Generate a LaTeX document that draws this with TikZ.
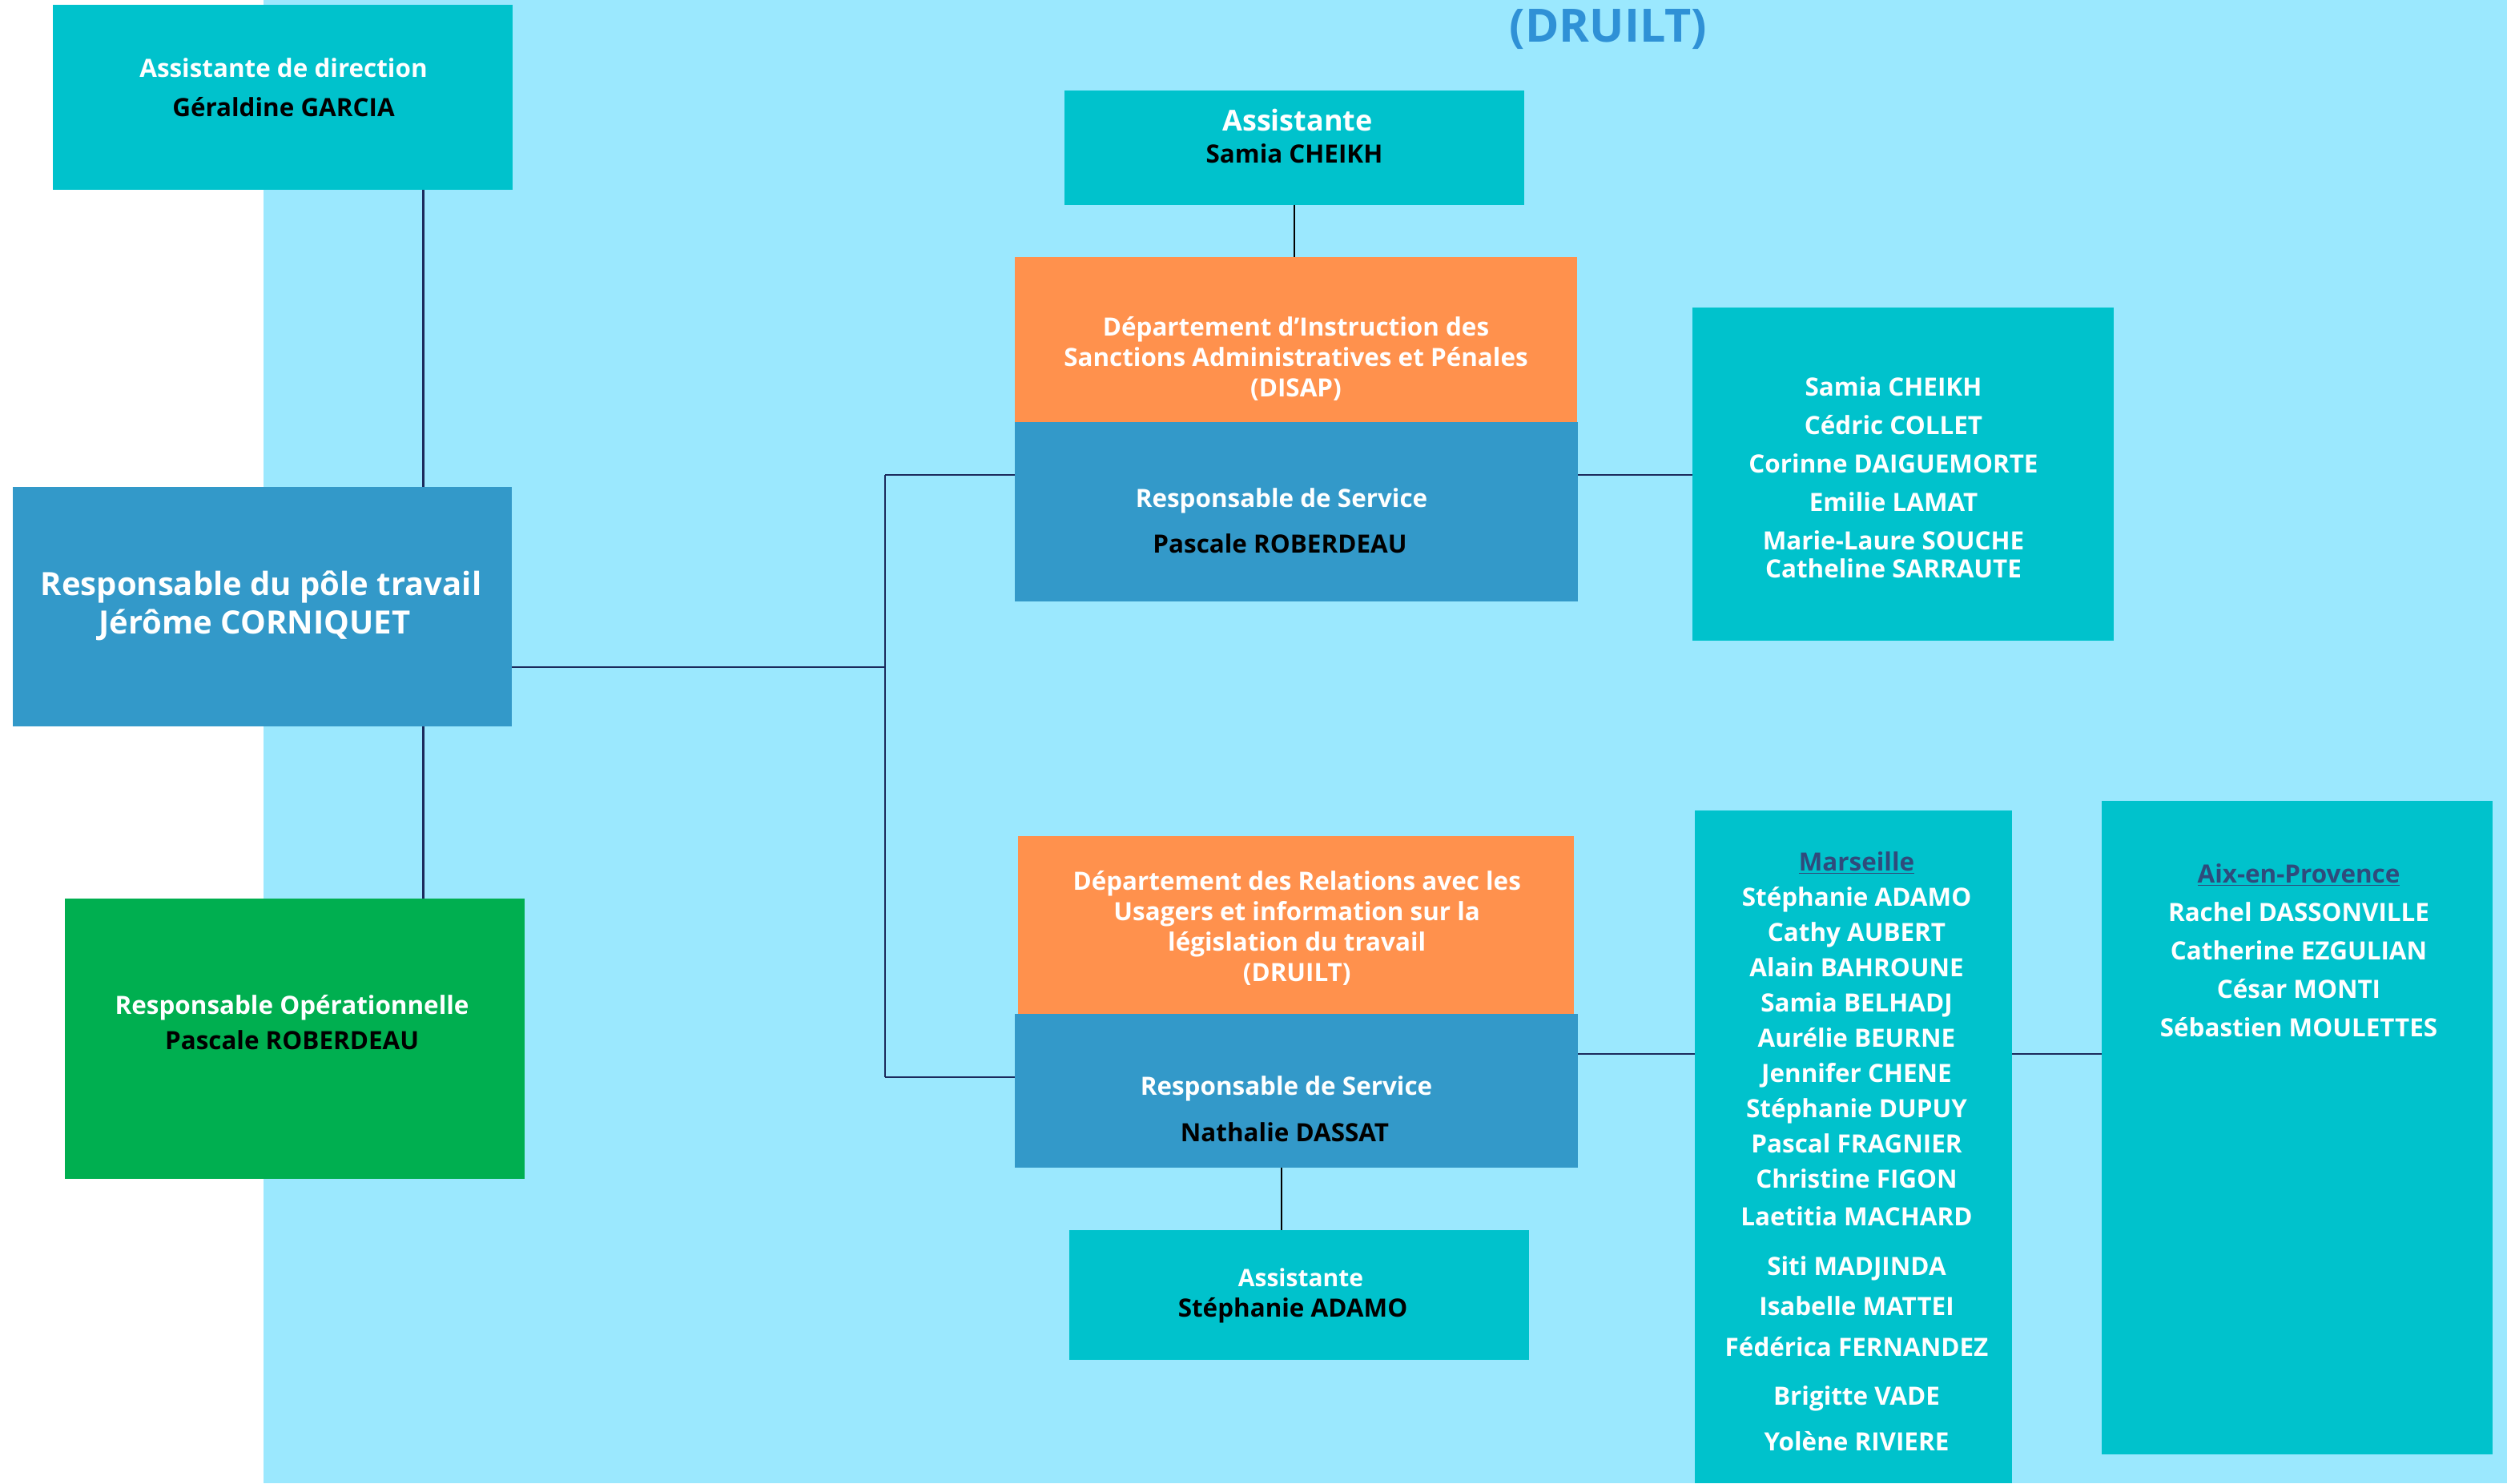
\documentclass[tikz,border=0pt]{standalone}
\usepackage{fontspec}
\setmainfont{Open Sans}
\usepackage{tikz}

\definecolor{skyback}{HTML}{9BE8FE}
\definecolor{tealbox}{HTML}{00C2CC}
\definecolor{bluebox}{HTML}{3399C9}
\definecolor{orangebox}{HTML}{FF914D}
\definecolor{greenbox}{HTML}{00AF50}
\definecolor{titleblue}{HTML}{2F91D6}
\definecolor{cityblue}{HTML}{2F4B7C}
\definecolor{linknavy}{HTML}{1B2A5C}

\begin{document}
\begin{tikzpicture}[x=1pt,y=-1pt,
    box/.style={rectangle, draw=none, inner sep=0pt, outer sep=0pt},
    txt/.style={anchor=base, inner sep=0pt, outer sep=0pt, align=center, text=white,
        font=\fontsize{15.7}{24}\selectfont\bfseries},
    who/.style={txt, text=black},
    link/.style={draw=linknavy, line width=1pt}]
    \useasboundingbox (0,0) rectangle (1565,926);
    %Shape: background
    \fill[skyback] (164.5,0) rectangle (1565,926);

    % Text Node
    \node[txt, text=titleblue, font=\fontsize{28.7}{34}\selectfont\bfseries] (title) at (1004,26.3) {(DRUILT)};

    %Shape: left column
    \node[box, fill=tealbox, minimum width=287pt, minimum height=115.5pt] (dirbox) at (176.5,60.75) {};
    \node[box, fill=bluebox, minimum width=311.5pt, minimum height=149.5pt] (chefbox) at (163.75,378.75) {};
    \node[box, fill=greenbox, minimum width=287pt, minimum height=175pt] (opbox) at (184,648.25) {};

    %Shape: DISAP
    \node[box, fill=tealbox, minimum width=287.3pt, minimum height=71.3pt] (asstA) at (808,92.15) {};
    \node[box, fill=orangebox, minimum width=350.8pt, minimum height=103pt] (disap) at (809.1,212) {};
    \node[box, fill=bluebox, minimum width=351.5pt, minimum height=112.2pt] (disapresp) at (809.25,319.6) {};
    \node[box, fill=tealbox, minimum width=263.1pt, minimum height=207.8pt] (teamA) at (1188.15,295.9) {};

    %Shape: DRUILT
    \node[box, fill=orangebox, minimum width=347.2pt, minimum height=111.4pt] (druilt) at (809.1,577.5) {};
    \node[box, fill=bluebox, minimum width=351.5pt, minimum height=95.8pt] (druiltresp) at (809.25,681.1) {};
    \node[box, fill=tealbox, minimum width=286.7pt, minimum height=81pt] (asstB) at (810.95,808.3) {};
    \node[box, fill=tealbox, minimum width=198pt, minimum height=420pt] (marsbox) at (1157,716) {};
    \node[box, fill=tealbox, minimum width=244pt, minimum height=408pt] (aixbox) at (1434,704) {};

    % connectors
    \coordinate (trunk) at (264.3,0);
    \coordinate (fork) at (552.4,416.3);
    \coordinate (forkup) at (552.4,296.5);
    \coordinate (forkdown) at (552.4,672.5);
    \coordinate (druiltlink) at (0,657.8);
    \coordinate (stem) at (800.2,0);
    \draw[link, line width=1.6pt] (dirbox.south -| trunk) -- (chefbox.north -| trunk);
    \draw[link, line width=1.6pt] (chefbox.south -| trunk) -- (opbox.north -| trunk);
    \draw[link] (chefbox.east |- fork) -- (fork);
    \draw[link] (forkup) -- (forkdown);
    \draw[link] (forkup) -- (disapresp.west |- forkup);
    \draw[link] (forkdown) -- (druiltresp.west |- forkdown);
    \draw[link, draw=black] (asstA.south) -- (asstA.south |- disap.north);
    \draw[link] (disapresp.east |- forkup) -- (teamA.west |- forkup);
    \draw[link] (druiltresp.east |- druiltlink) -- (marsbox.west |- druiltlink);
    \draw[link] (marsbox.east |- druiltlink) -- (aixbox.west |- druiltlink);
    \draw[link, draw=black] (druiltresp.south -| stem) -- (asstB.north -| stem);

    % Text Node
    \node[txt] (dirtitle) at (177,48.3) {Assistante de direction};
    \node[who] (dirname) at (177,72.5) {Géraldine GARCIA};
    \node[txt, font=\fontsize{20}{24}\selectfont\bfseries] (cheftitle) at (163,371.8) {Responsable du pôle travail};
    \node[txt, font=\fontsize{20}{24}\selectfont\bfseries] (chefname) at (159,395.6) {Jérôme CORNIQUET};
    \node[txt] (optitle) at (182.3,633) {Responsable Opérationnelle};
    \node[who] (opname) at (182.3,655.4) {Pascale ROBERDEAU};

    % Text Node (multi-line nodes sit on their last line)
    \node[txt, font=\fontsize{18}{24}\selectfont\bfseries] (asstAtitle) at (810,81.9) {Assistante};
    \node[who] (asstAname) at (808,101.8) {Samia CHEIKH};
    \node[txt, font=\fontsize{15.7}{19}\selectfont\bfseries] (disaptxt) at (809,247.7)
        {Département d’Instruction des\\Sanctions Administratives et Pénales\\(DISAP)};
    \node[txt] (disaprole) at (800,316.5) {Responsable de Service};
    \node[who] (disapname) at (799,345.3) {Pascale ROBERDEAU};
    \node[txt] (teamAtxt) at (1182,360.8)
        {Samia CHEIKH\\Cédric COLLET\\Corinne DAIGUEMORTE\\Emilie LAMAT\\Marie-Laure SOUCHE\\[-6.5pt]Catheline SARRAUTE};

    % Text Node
    \node[txt, font=\fontsize{15.7}{19}\selectfont\bfseries] (druilttxt) at (809.6,612.7)
        {Département des Relations avec les\\Usagers et information sur la\\législation du travail\\(DRUILT)};
    \node[txt] (druiltrole) at (803,683.7) {Responsable de Service};
    \node[who] (druiltname) at (802,712.7) {Nathalie DASSAT};
    \node[txt, font=\fontsize{15}{24}\selectfont\bfseries] (asstBtitle) at (812,803) {Assistante};
    \node[who] (asstBname) at (807,822) {Stéphanie ADAMO};

    % Text Node
    \node[txt, font=\fontsize{15.7}{22}\selectfont\bfseries] (marstxt) at (1159,905.5)
        {{\color{cityblue}\underline{Marseille}}\\Stéphanie ADAMO\\Cathy AUBERT\\Alain BAHROUNE\\Samia BELHADJ\\Aurélie BEURNE\\Jennifer CHENE\\Stéphanie DUPUY\\Pascal FRAGNIER\\Christine FIGON\\[1.5pt]Laetitia MACHARD\\[9pt]Siti MADJINDA\\[3pt]Isabelle MATTEI\\[3.5pt]Fédérica FERNANDEZ\\[8.5pt]Brigitte VADE\\[6.5pt]Yolène RIVIERE};
    \node[txt] (aixtxt) at (1435,647)
        {{\color{cityblue}\underline{Aix-en-Provence}}\\Rachel DASSONVILLE\\Catherine EZGULIAN\\César MONTI\\Sébastien MOULETTES};
\end{tikzpicture}
\end{document}
